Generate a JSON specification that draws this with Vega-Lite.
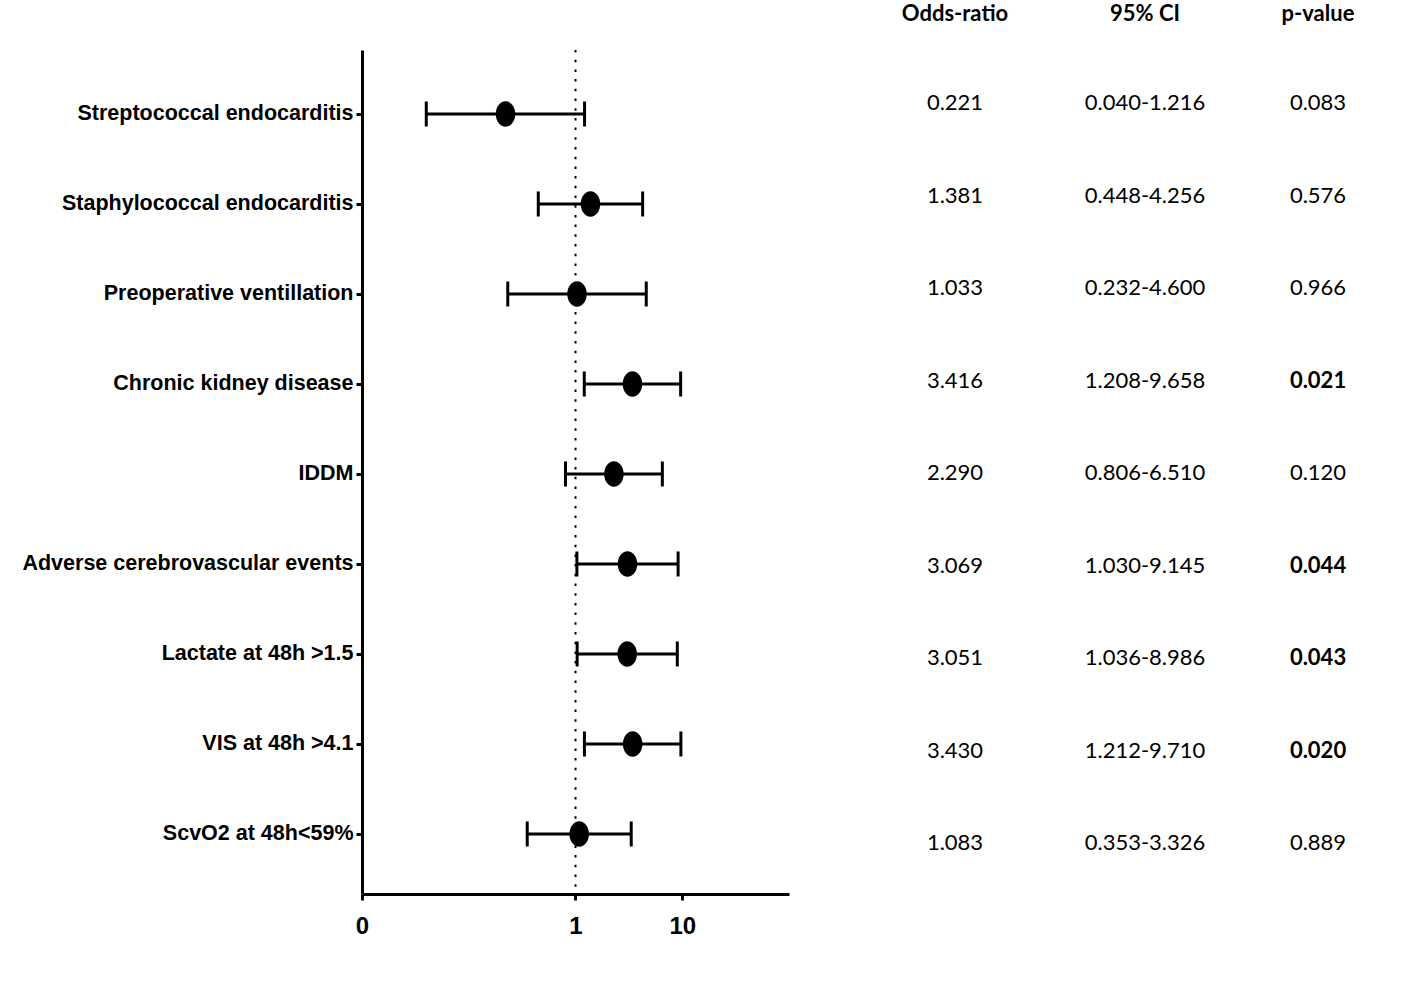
{
  "$schema": "https://vega.github.io/schema/vega-lite/v6.json",
  "background": "white",
  "padding": {"left": 21, "top": 3, "right": 5, "bottom": 5},
  "bounds": "flush",
  "spacing": 100,
  "config": {
    "view": {"stroke": null},
    "axis": {"grid": false, "domainColor": "black", "tickColor": "black", "labelColor": "black"}
  },
  "data": {
    "values": [
      {"label": "Streptococcal endocarditis", "or": 0.221, "lo": 0.040, "hi": 1.216, "ci": "0.040-1.216", "p": 0.083},
      {"label": "Staphylococcal endocarditis", "or": 1.381, "lo": 0.448, "hi": 4.256, "ci": "0.448-4.256", "p": 0.576},
      {"label": "Preoperative ventillation", "or": 1.033, "lo": 0.232, "hi": 4.600, "ci": "0.232-4.600", "p": 0.966},
      {"label": "Chronic kidney disease", "or": 3.416, "lo": 1.208, "hi": 9.658, "ci": "1.208-9.658", "p": 0.021},
      {"label": "IDDM", "or": 2.290, "lo": 0.806, "hi": 6.510, "ci": "0.806-6.510", "p": 0.120},
      {"label": "Adverse cerebrovascular events", "or": 3.069, "lo": 1.030, "hi": 9.145, "ci": "1.030-9.145", "p": 0.044},
      {"label": "Lactate at 48h >1.5", "or": 3.051, "lo": 1.036, "hi": 8.986, "ci": "1.036-8.986", "p": 0.043},
      {"label": "VIS at 48h >4.1", "or": 3.430, "lo": 1.212, "hi": 9.710, "ci": "1.212-9.710", "p": 0.020},
      {"label": "ScvO2 at 48h<59%", "or": 1.083, "lo": 0.353, "hi": 3.326, "ci": "0.353-3.326", "p": 0.889}
    ]
  },
  "hconcat": [
    {
      "width": 427,
      "height": 844,
      "layer": [
        {
          "data": {"values": [{"ref": 1}]},
          "mark": {"type": "rule", "strokeDash": [2.5, 7.2], "strokeWidth": 2, "color": "black"},
          "encoding": {
            "x": {"field": "ref", "type": "quantitative", "scale": {"type": "log", "domain": [0.01, 100]}}
          }
        },
        {
          "mark": {"type": "rule", "strokeWidth": 3, "color": "black"},
          "encoding": {
            "y": {
              "field": "label", "type": "nominal", "sort": null,
              "scale": {"type": "point", "padding": 0.689, "align": 0.516},
              "axis": {
                "title": null, "domainWidth": 3, "tickWidth": 3, "tickSize": 6, "labelPadding": 3,
                "labelFont": "Liberation Sans, Arial, sans-serif",
                "labelFontSize": 21.5, "labelFontWeight": "bold", "labelLimit": 500
              }
            },
            "x": {
              "field": "lo", "type": "quantitative",
              "scale": {"type": "log", "domain": [0.01, 100]},
              "axis": {
                "title": null, "values": [0.01, 1, 10], "format": "~g",
                "labelExpr": "datum.value < 0.1 ? '0' : datum.label",
                "domainWidth": 3, "tickWidth": 3, "tickSize": 6, "labelPadding": 14,
                "labelFont": "Liberation Sans, Arial, sans-serif",
                "labelFontSize": 24, "labelFontWeight": "bold", "labelFlush": false, "labelOverlap": false
              }
            },
            "x2": {"field": "hi"}
          }
        },
        {
          "mark": {"type": "tick", "orient": "vertical", "size": 25, "thickness": 3, "color": "black", "opacity": 1},
          "encoding": {
            "y": {"field": "label", "type": "nominal", "sort": null},
            "x": {"field": "lo", "type": "quantitative"}
          }
        },
        {
          "mark": {"type": "tick", "orient": "vertical", "size": 25, "thickness": 3, "color": "black", "opacity": 1},
          "encoding": {
            "y": {"field": "label", "type": "nominal", "sort": null},
            "x": {"field": "hi", "type": "quantitative"}
          }
        },
        {
          "mark": {
            "type": "point",
            "shape": "M-0.765,0A0.765,1,0,1,0,0.765,0A0.765,1,0,1,0,-0.765,0Z",
            "filled": true, "size": 650, "color": "black", "opacity": 1
          },
          "encoding": {
            "y": {"field": "label", "type": "nominal", "sort": null},
            "x": {"field": "or", "type": "quantitative"}
          }
        }
      ]
    },
    {
      "width": 132,
      "height": 844,
      "title": {"text": "Odds-ratio", "font": "Lato", "fontSize": 22, "fontWeight": "bold", "anchor": "middle", "offset": 24, "color": "black"},
      "mark": {"type": "text", "font": "Lato", "fontSize": 22, "color": "black"},
      "encoding": {
        "y": {"field": "label", "type": "nominal", "sort": null, "axis": null, "scale": {"type": "point", "padding": 0.562, "align": 0.51}},
        "text": {"field": "or", "type": "quantitative", "format": ".3f"}
      }
    },
    {
      "width": 48,
      "height": 844,
      "title": {"text": "95% CI", "font": "Lato", "fontSize": 22, "fontWeight": "bold", "anchor": "middle", "offset": 24, "color": "black"},
      "mark": {"type": "text", "font": "Lato", "fontSize": 22, "color": "black"},
      "encoding": {
        "y": {"field": "label", "type": "nominal", "sort": null, "axis": null, "scale": {"type": "point", "padding": 0.562, "align": 0.51}},
        "text": {"field": "ci", "type": "nominal"}
      }
    },
    {
      "width": 98,
      "height": 844,
      "title": {"text": "p-value", "font": "Lato", "fontSize": 22, "fontWeight": "bold", "anchor": "middle", "offset": 24, "color": "black"},
      "layer": [
        {
          "mark": {"type": "text", "font": "Lato", "fontSize": 22, "color": "black"},
          "encoding": {
            "y": {"field": "label", "type": "nominal", "sort": null, "axis": null, "scale": {"type": "point", "padding": 0.562, "align": 0.51}},
            "text": {"condition": {"test": "datum.p >= 0.05", "field": "p", "type": "quantitative", "format": ".3f"}, "value": ""}
          }
        },
        {
          "mark": {"type": "text", "font": "Lato", "fontSize": 22, "fontWeight": "bold", "color": "black"},
          "encoding": {
            "y": {"field": "label", "type": "nominal", "sort": null, "axis": null},
            "text": {"condition": {"test": "datum.p < 0.05", "field": "p", "type": "quantitative", "format": ".3f"}, "value": ""}
          }
        }
      ]
    }
  ]
}
